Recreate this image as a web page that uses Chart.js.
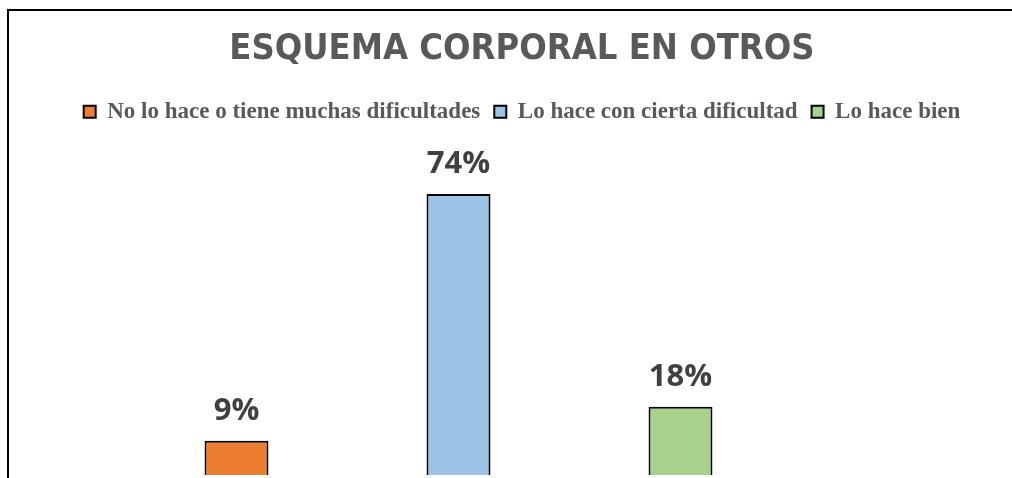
<!DOCTYPE html>
<html lang="es">
<head>
    <meta charset="UTF-8">
    <title>Esquema corporal en otros</title>
    <script src="https://cdn.jsdelivr.net/npm/chart.js@4.4.1/dist/chart.umd.min.js"></script>
    <style>
        html, body { margin: 0; padding: 0; background: #fff; overflow: hidden; }
        #wrap { position: relative; width: 1012px; height: 478px; }
        #marco { position: absolute; left: 7px; top: 9px; right: -10px; bottom: -10px; border: 2px solid #000; }
        canvas { position: absolute; left: 0; top: 0; }
    </style>
</head>
<body>
    <div id="wrap">
        <div id="marco"></div>
        <canvas id="grafico" width="1012" height="478"></canvas>
    </div>

    <script>
        // datos
        var categorias = ['No lo hace o tiene muchas dificultades', 'Lo hace con cierta dificultad', 'Lo hace bien'];
        var porcentajes = [9, 74, 18];
        var colores = ['#ED7D31', '#9DC3E6', '#A9D18E'];

        // etiquetas de porcentaje encima de cada barra
        var etiquetas = {
            id: 'etiquetas',
            afterDatasetsDraw: function (chart) {
                var ctx = chart.ctx;
                ctx.save();
                ctx.font = 'bold 31px "Open Sans", sans-serif';
                ctx.fillStyle = '#404040';
                ctx.textAlign = 'center';
                ctx.textBaseline = 'alphabetic';
                chart.data.datasets.forEach(function (ds, i) {
                    var bar = chart.getDatasetMeta(i).data[0];
                    ctx.fillText(ds.data[0] + '%', bar.x, bar.y - 21);
                });
                ctx.restore();
            }
        };

        var datasets = categorias.map(function (c, i) {
            return {
                label: c,
                data: [porcentajes[i]],
                backgroundColor: colores[i],
                borderColor: '#000',
                borderWidth: 2,
                categoryPercentage: 1,
                barPercentage: 0.288
            };
        });

        var chart = new Chart(document.getElementById('grafico'), {
            type: 'bar',
            data: { labels: [''], datasets: datasets },
            plugins: [etiquetas],
            options: {
                responsive: false,
                animation: false,
                layout: { padding: { left: 32, right: 0, top: 0, bottom: 3 } },
                plugins: {
                    tooltip: { enabled: false },
                    title: {
                        display: true,
                        text: 'ESQUEMA CORPORAL EN OTROS',
                        color: '#595959',
                        font: { family: '"DejaVu Sans Condensed", "Liberation Sans Narrow", "DejaVu Sans", sans-serif', size: 36, weight: 'bold' },
                        padding: { top: 28, bottom: 15 }
                    },
                    legend: {
                        display: true,
                        position: 'top',
                        labels: {
                            color: '#595959',
                            font: { family: '"Liberation Serif", serif', size: 23, weight: 'bold' },
                            boxWidth: 12,
                            boxHeight: 12,
                            padding: 14
                        }
                    }
                },
                scales: {
                    x: { display: false },
                    y: {
                        min: 0,
                        max: 90,
                        ticks: { display: false },
                        grid: { display: false },
                        border: { display: false },
                        afterFit: function (s) { s.width = 93.5; }
                    },
                    y2: {
                        position: 'right',
                        min: 0,
                        max: 90,
                        ticks: { display: false },
                        grid: { display: false },
                        border: { display: false },
                        afterFit: function (s) { s.width = 220.5; }
                    }
                }
            }
        });
    </script>
</body>
</html>
